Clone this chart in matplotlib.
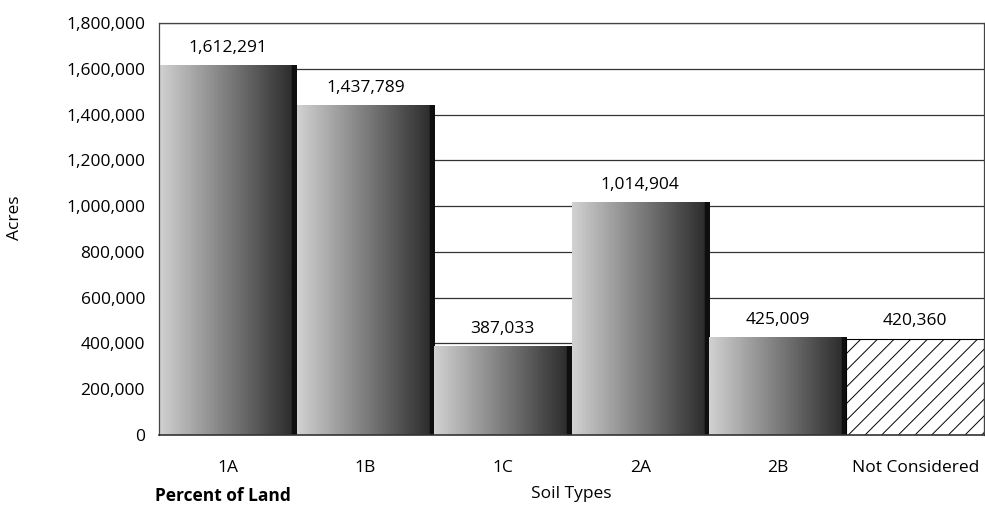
import numpy as np
import matplotlib
matplotlib.use('Agg')
import matplotlib.pyplot as plt

# Soil type acreage
soil_types = ['1A', '1B', '1C', '2A', '2B', 'Not Considered']
acres = [1612291, 1437789, 387033, 1014904, 425009, 420360]
y_ticks = [0, 200000, 400000, 600000, 800000, 1000000, 1200000, 1400000, 1600000, 1800000]

plt.rcParams['font.family'] = ['Open Sans', 'DejaVu Sans']
plt.rcParams['font.size'] = 12.5
plt.rcParams['hatch.linewidth'] = 0.7

fig = plt.figure(figsize=(9.85, 5.12), dpi=100)
ax = fig.add_axes([159 / 985, 1 - 435 / 512, (984 - 159) / 985, (435 - 23) / 512])

# gradient for shaded bars: light gray on the left to black on the right
grad = np.linspace(0.82, 0.18, 200)
grad = np.concatenate([grad, np.full(8, 0.06)])
grad = grad[np.newaxis, :]

x = np.arange(len(soil_types))
for i, v in enumerate(acres):
    if soil_types[i] == 'Not Considered':
        ax.bar(x[i], v, width=1.0, color='white', edgecolor='black',
               hatch='//', linewidth=0.8, zorder=2)
    else:
        ax.imshow(grad, cmap='gray', vmin=0, vmax=1, aspect='auto',
                  extent=(x[i] - 0.5, x[i] + 0.5, 0, v), zorder=2,
                  interpolation='bilinear')
    ax.annotate(f'{v:,}', (x[i], v), xytext=(0, 7), textcoords='offset points',
                ha='center', va='bottom')

ax.set_xlim(-0.5, len(soil_types) - 0.5)
ax.set_ylim(0, 1800000)
ax.set_yticks(y_ticks)
ax.set_yticklabels([f'{t:,}' for t in y_ticks])
ax.set_xticks(x)
ax.set_xticklabels(soil_types)
ax.tick_params(length=0)
ax.tick_params(axis='x', pad=18)
ax.tick_params(axis='y', pad=10)

ax.yaxis.grid(True, color='#333333', linewidth=0.9, zorder=0)
ax.set_axisbelow(True)
for s in ['top', 'right', 'left']:
    ax.spines[s].set_color('#444444')
    ax.spines[s].set_linewidth(0.9)
ax.spines['bottom'].set_color('#333333')
ax.spines['bottom'].set_linewidth(1.2)

fig.text(15 / 985, 1 - 218 / 512, 'Acres', rotation=90, ha='center', va='center')
fig.text(571 / 985, 1 - 494 / 512, 'Soil Types', ha='center', va='center')
fig.text(155 / 985, 1 - 496 / 512, 'Percent of Land', ha='left', va='center',
         fontweight='bold')

fig.savefig('out.png', dpi=100)
